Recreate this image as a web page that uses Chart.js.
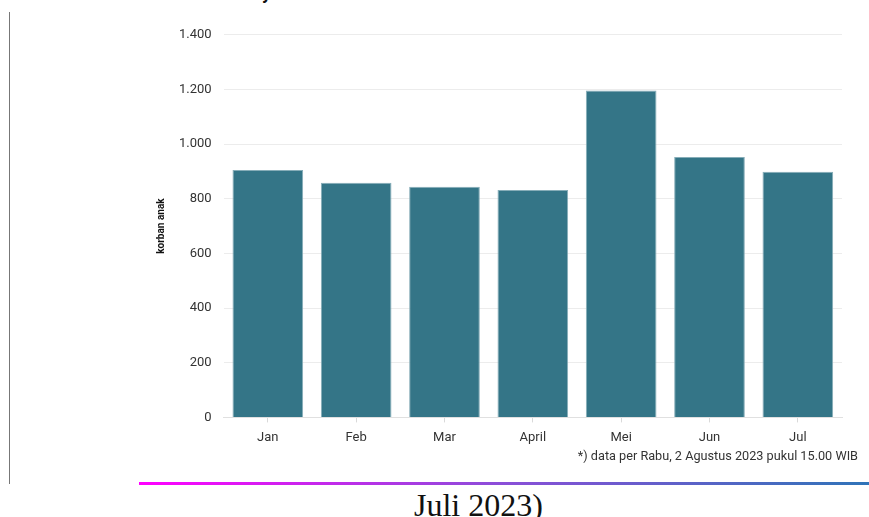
<!DOCTYPE html>
<html>
<head>
<meta charset="utf-8">
<script src="https://cdn.jsdelivr.net/npm/chart.js@4"></script>
<style>
  body { margin: 0; background: #fff; width: 869px; height: 517px; overflow: hidden; position: relative; font-family: Roboto, sans-serif; }
  .side-line { position: absolute; left: 9px; top: 12px; width: 1px; height: 472px; background: #777; }
  .top-cut { position: absolute; left: 262px; top: -18px; font: bold 18px Roboto, sans-serif; color: #111; }
  .chart-box { position: absolute; left: 155px; top: 15px; width: 690px; height: 439px; }
  .note { position: absolute; right: 11px; top: 448px; font-size: 12.7px; color: #333; }
  .rule { position: absolute; left: 139px; top: 482px; width: 730px; height: 3px; background: linear-gradient(to right, #ff00ff, #8a4fd8 50%, #2f74b8); }
  .caption { position: absolute; left: 414px; top: 487px; font: 32px "Liberation Serif", "Times New Roman", serif; color: #111; white-space: nowrap; }
</style>
</head>
<body>
<div class="side-line"></div>
<div class="top-cut">y</div>
<div class="chart-box"><canvas id="korbanChart"></canvas></div>
<div class="note">*) data per Rabu, 2 Agustus 2023 pukul 15.00 WIB</div>
<div class="rule"></div>
<div class="caption">Juli 2023)</div>

<script>
// ========== DATA ========== //
const months = ["Jan", "Feb", "Mar", "April", "Mei", "Jun", "Jul"];
const korbanAnak = [905, 859, 844, 832, 1196, 953, 899];
const yTicks = [0, 200, 400, 600, 800, 1000, 1200, 1400];

// format 1400 -> "1.400"
const fmt = v => String(v).replace(/\B(?=(\d{3})+(?!\d))/g, ".");

const ctx = document.getElementById('korbanChart');
new Chart(ctx, {
    type: 'bar',
    data: {
        labels: months,
        datasets: [{
            label: "korban anak",
            data: korbanAnak,
            backgroundColor: "#347587",
            borderColor: "#86adb8",
            borderWidth: 1,
            categoryPercentage: 0.8,
            barPercentage: 1.0
        }]
    },
    options: {
        responsive: true,
        maintainAspectRatio: false,
        animation: false,
        layout: { padding: { top: 5, right: 3 } },
        plugins: { legend: { display: false }, tooltip: { enabled: false } },
        scales: {
            x: {
                grid: { offset: false, drawOnChartArea: false, tickLength: 5, color: "#d9d9d9" },
                border: { color: "#e0e0e0" },
                ticks: { color: "#333", font: { family: "Roboto", size: 13 }, padding: 8 }
            },
            y: {
                min: 0,
                max: 1400,
                afterBuildTicks: axis => { axis.ticks = yTicks.map(v => ({ value: v })); },
                grid: { color: "#ececec", drawTicks: false },
                border: { display: false },
                ticks: {
                    color: "#333",
                    padding: 12,
                    font: { family: "Roboto", size: 13 },
                    callback: v => fmt(v)
                },
                title: {
                    display: true,
                    text: "korban anak",
                    color: "#111",
                    padding: { top: 0, bottom: 0 },
                    font: { family: "Roboto", size: 10, weight: "bold" }
                }
            }
        }
    }
});
</script>
</body>
</html>
